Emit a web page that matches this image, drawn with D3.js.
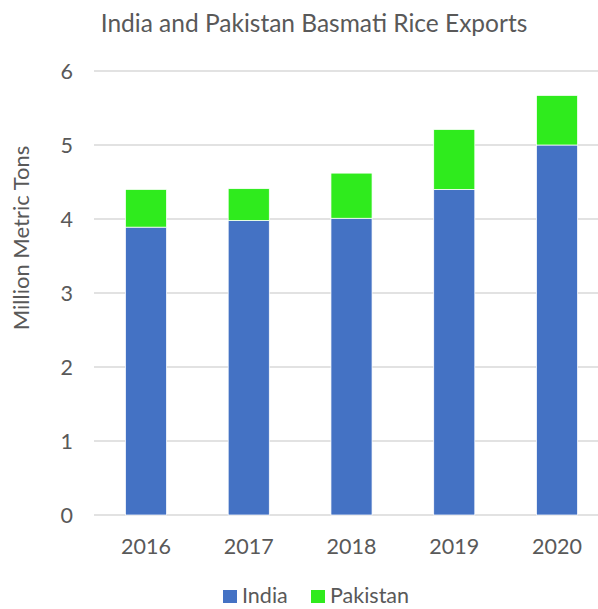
<!DOCTYPE html>
<html><head><meta charset="utf-8">
<script src="https://cdn.jsdelivr.net/npm/d3@7"></script>
<style>body{margin:0;background:#fff}svg{display:block}text{font-family:Lato,"Open Sans",sans-serif;fill:#595959}</style>
</head><body><svg id="c" width="598" height="609"></svg>
<script>
const years = ["2016","2017","2018","2019","2020"];
const india = [3.89, 3.98, 4.01, 4.40, 5.00];
const pakistan = [0.51, 0.43, 0.61, 0.81, 0.67];
const yTicks = [0,1,2,3,4,5,6];
const seriesNames = ["India","Pakistan"];
const colors = ["#4472C4","#2FEB1D"];

const svg = d3.select("#c");
const x = d3.scaleBand().domain(years).range([94.6, 608.4]).paddingInner(0.6).paddingOuter(0.3);
const y = d3.scaleLinear().domain([0,6]).range([515,71]);

svg.append("g").selectAll("line").data(yTicks).join("line")
  .attr("x1",94).attr("x2",598).attr("y1",d=>y(d)).attr("y2",d=>y(d))
  .attr("stroke","#D9D9D9").attr("stroke-width",1.5);

svg.append("g").selectAll("text").data(yTicks).join("text")
  .attr("x",73).attr("y",d=>y(d)).attr("dy","0.36em").attr("text-anchor","end")
  .attr("font-size",21.5).text(d=>d);

const rows = years.map((yr,i)=>({year:yr, India:india[i], Pakistan:pakistan[i]}));
const stack = d3.stack().keys(seriesNames)(rows);
svg.append("g").selectAll("g").data(stack).join("g").attr("fill",(d,i)=>colors[i])
  .selectAll("rect").data(d=>d).join("rect")
  .attr("x",d=>x(d.data.year)).attr("width",x.bandwidth())
  .attr("y",d=>y(d[1])).attr("height",d=>y(d[0])-y(d[1]))
  .attr("stroke","#fff").attr("stroke-width",0.75);

svg.append("g").selectAll("text").data(years).join("text")
  .attr("x",d=>x(d)+x.bandwidth()/2).attr("y",554).attr("text-anchor","middle")
  .attr("font-size",21.5).text(d=>d);

svg.append("text").attr("x",314).attr("y",32).attr("text-anchor","middle")
  .attr("font-size",24.5).text("India and Pakistan Basmati Rice Exports");

svg.append("text").attr("transform","translate(29,238) rotate(-90)").attr("text-anchor","middle")
  .attr("font-size",22).text("Million Metric Tons");

const leg = [{n:"India",c:colors[0],x:223},{n:"Pakistan",c:colors[1],x:311}];
const lg = svg.append("g").selectAll("g").data(leg).join("g");
lg.append("rect").attr("x",d=>d.x).attr("y",590).attr("width",14).attr("height",13).attr("fill",d=>d.c);
lg.append("text").attr("x",d=>d.x+19).attr("y",603).attr("font-size",21.5).text(d=>d.n);
</script></body></html>
